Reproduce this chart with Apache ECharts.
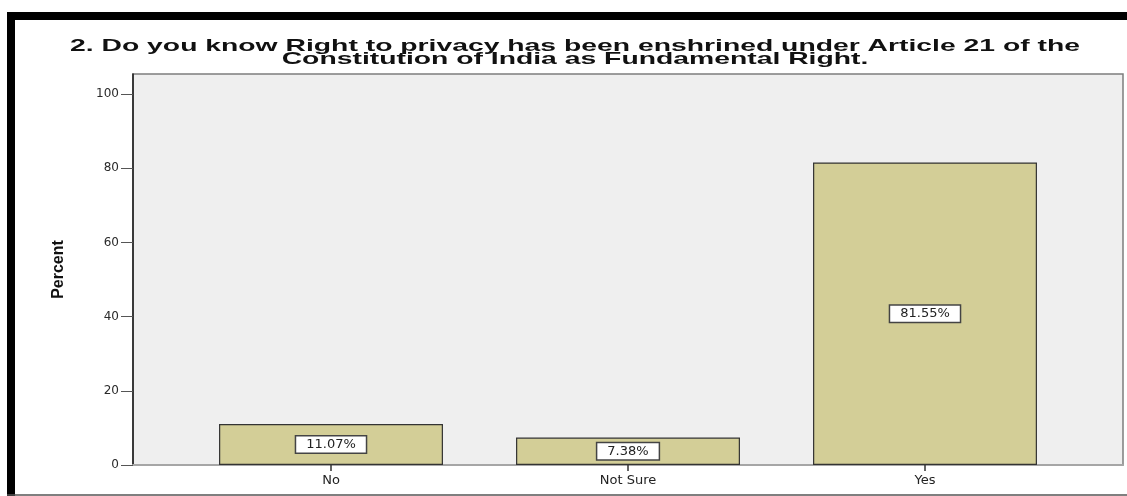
<!DOCTYPE html>
<html>
<head>
<meta charset="utf-8">
<title>Right to privacy awareness</title>
<script src="https://cdn.jsdelivr.net/npm/echarts@6/dist/echarts.min.js"></script>
<style>
  html, body { margin: 0; padding: 0; background: #ffffff; }
  #chart { width: 1127px; height: 496px; }
</style>
</head>
<body>
<div id="chart"></div>
<script>
// Survey responses (percent of respondents)
const categories = ['No', 'Not Sure', 'Yes'];
const percents = [11.07, 7.38, 81.55];
const yTicks = [0, 20, 40, 60, 80, 100];
const titleLines = [
  '2. Do you know Right to privacy has been enshrined under Article 21 of the',
  'Constitution of India as Fundamental Right.'
];

const yMax = 105.4;
const titleFont = 'bold 17px "Liberation Sans", Arial, sans-serif';
const bodyFont = '"DejaVu Sans", Verdana, sans-serif';

// Stretch the title horizontally so it spans the chart width
const measureCtx = document.createElement('canvas').getContext('2d');
measureCtx.font = titleFont;
const titleScale = 1010 / measureCtx.measureText(titleLines[0]).width;

const chart = echarts.init(document.getElementById('chart'));

const option = {
  backgroundColor: '#ffffff',
  animation: false,
  grid: [
    // plot frame (grey panel, y axis, zero line)
    { left: 133, right: 4, top: 74, bottom: 31, show: true,
      backgroundColor: '#efefef', borderColor: '#7d7d7d', borderWidth: 1.5 },
    // bar band, inset inside the panel
    { left: 182.5, right: 53.5, top: 74, bottom: 31 }
  ],
  xAxis: [
    { gridIndex: 0, type: 'category', data: categories,
      axisLine: { show: true, lineStyle: { color: '#a6a6a6', width: 2 } },
      axisTick: { show: false }, axisLabel: { show: false }, splitLine: { show: false } },
    { gridIndex: 1, type: 'category', data: categories,
      axisLine: { show: false },
      axisTick: { show: true, alignWithLabel: true, length: 6,
                  lineStyle: { color: '#333333', width: 1.5 } },
      axisLabel: { color: '#222222', fontFamily: bodyFont, fontSize: 13, margin: 9 } }
  ],
  yAxis: [
    { gridIndex: 0, type: 'value', min: 0, max: yMax,
      name: 'Percent', nameLocation: 'middle', nameGap: 66, nameRotate: 90,
      nameTextStyle: { fontFamily: '"Liberation Sans", Arial, sans-serif',
                       fontWeight: 'bold', fontSize: 16, color: '#111111' },
      axisLine: { show: true, lineStyle: { color: '#1a1a1a', width: 1.5 } },
      axisTick: { show: true, inside: false, length: 12, customValues: yTicks,
                  lineStyle: { color: '#555555', width: 1 } },
      axisLabel: { customValues: yTicks, color: '#2a2a2a', fontFamily: bodyFont,
                   fontSize: 12, margin: 14 },
      splitLine: { show: false } },
    { gridIndex: 1, type: 'value', min: 0, max: yMax, show: false }
  ],
  graphic: [
    // page frame
    { type: 'rect', z: 100, shape: { x: 7, y: 12, width: 1120, height: 8 }, style: { fill: '#000000' } },
    { type: 'rect', z: 100, shape: { x: 7, y: 12, width: 8, height: 484 }, style: { fill: '#000000' } },
    { type: 'line', z: 100, shape: { x1: 7, y1: 495, x2: 1127, y2: 495 },
      style: { stroke: '#555555', lineWidth: 1.5 } },
    // two-line title
    { type: 'text', x: 575, y: 46, scaleX: titleScale,
      style: { text: titleLines[0], font: titleFont, fill: '#111111',
               align: 'center', verticalAlign: 'middle' } },
    { type: 'text', x: 575, y: 59.5, scaleX: titleScale,
      style: { text: titleLines[1], font: titleFont, fill: '#111111',
               align: 'center', verticalAlign: 'middle' } }
  ],
  series: [{
    type: 'bar',
    xAxisIndex: 1,
    yAxisIndex: 1,
    data: percents,
    barWidth: '75.4%',
    itemStyle: { color: '#d3ce97', borderColor: '#333333', borderWidth: 1.2 },
    label: {
      show: true,
      position: 'inside',
      formatter: p => p.value.toFixed(2) + '%',
      fontFamily: bodyFont,
      fontSize: 13,
      color: '#222222',
      backgroundColor: '#ffffff',
      borderColor: '#444444',
      borderWidth: 1.5,
      padding: [2, 10, 1, 10]
    }
  }]
};

chart.setOption(option);
</script>
</body>
</html>
